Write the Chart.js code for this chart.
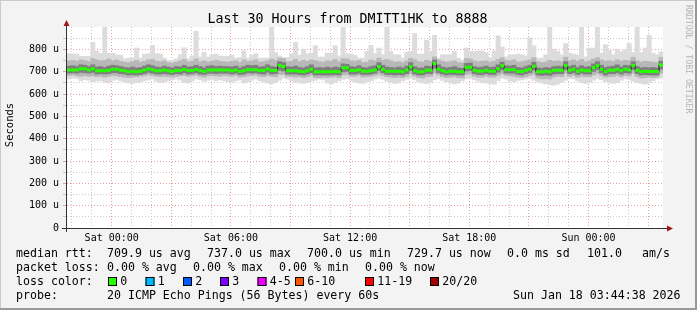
<!DOCTYPE html>
<html>
<head>
<meta charset="utf-8">
<script src="https://cdn.jsdelivr.net/npm/chart.js@4.4.1/dist/chart.umd.min.js"></script>
<style>
  html, body { margin: 0; padding: 0; background: #f3f3f3; }
  canvas { display: block; }
</style>
</head>
<body>
<canvas id="myChart" width="697" height="310"></canvas>
<script>
// 150 columns of 12 minutes, last 30 hours (x in hours from Sat 00:00)
const startHour = -2.25;
const stepHours = 0.2;

// median rtt (us)
const medRtt = [
  708,708,708,713,713,708,713,704,704,704,
  705,711,711,706,704,700,702,700,702,707,
  712,709,704,704,707,704,701,705,705,710,
  705,705,710,705,701,707,707,707,707,707,
  707,704,707,701,704,709,709,709,705,705,
  712,705,705,728,723,704,704,704,702,700,
  704,711,700,700,700,700,700,701,700,717,
  717,705,705,709,702,702,704,708,722,710,
  702,702,702,702,700,707,722,704,700,700,
  706,706,737,711,704,700,702,702,700,700,
  720,720,706,702,702,706,702,702,713,726,
  709,709,709,701,701,706,711,724,700,700,
  702,700,706,706,706,728,706,711,702,708,
  704,704,717,726,711,701,706,706,711,704,
  711,708,728,706,700,702,701,701,701,730
];
// smoke: slowest / fastest ping
const maxRtt = [
  780,778,778,768,768,768,830,791,781,897,
  781,781,775,772,757,760,760,805,760,778,
  780,817,780,778,760,748,748,757,775,806,
  757,770,880,765,785,765,775,778,770,768,
  768,773,760,763,793,760,773,780,760,760,
  760,905,785,770,763,763,780,830,773,800,
  780,782,816,765,765,782,782,815,770,905,
  780,778,772,760,760,790,817,780,805,775,
  905,790,775,775,760,787,790,870,777,778,
  840,790,862,760,775,775,775,790,760,750,
  805,790,790,792,792,785,760,792,860,810,
  765,775,775,778,775,770,850,815,760,760,
  775,905,800,790,775,825,782,778,775,905,
  765,805,805,905,782,820,795,775,800,790,
  797,825,785,905,785,805,862,782,775,788
];
const minRtt = [
  668,672,670,660,665,662,655,658,660,652,
  650,662,666,660,655,650,648,652,655,660,
  664,668,658,652,655,660,664,668,662,652,
  650,660,668,664,658,662,666,660,665,660,
  656,652,660,664,650,655,662,668,660,655,
  650,646,652,662,672,668,660,654,650,648,
  652,658,662,668,664,650,646,652,660,666,
  670,662,656,650,648,655,660,668,672,666,
  658,652,648,650,660,666,672,664,656,650,
  648,652,664,670,662,655,650,646,650,660,
  668,672,664,658,652,650,648,645,660,672,
  668,660,656,662,664,668,670,662,655,650,
  646,642,640,645,652,662,670,668,660,652,
  648,652,662,670,664,656,650,648,652,662,
  670,666,658,652,648,645,650,660,668,672
];
// middle smoke band
const hiMid = [
  748,750,746,752,750,744,758,752,748,750,
  756,748,752,746,742,740,744,750,742,746,
  752,754,746,744,748,740,738,742,748,754,
  744,746,756,744,748,742,746,750,746,744,
  742,746,748,740,752,746,748,752,742,744,
  748,756,750,760,758,744,746,754,744,750,
  746,752,748,744,742,748,746,754,744,758,
  756,748,746,750,740,742,752,748,760,750,
  754,748,742,744,740,748,760,752,744,742,
  750,746,766,752,746,742,744,748,740,738,
  758,756,748,744,746,748,742,746,754,762,
  750,748,752,742,744,748,752,762,744,740,
  742,750,746,748,744,764,748,752,746,754,
  744,748,756,762,752,746,748,744,752,746,
  750,748,764,748,742,746,744,742,740,764
];
const loMid = [
  684,686,682,680,684,680,682,678,680,676,
  680,684,682,678,676,674,676,678,680,682,
  686,684,680,678,680,678,676,680,682,684,
  680,682,686,680,676,682,684,682,680,684,
  682,680,684,676,678,682,684,686,680,678,
  684,680,678,688,688,680,678,676,678,674,
  678,684,674,672,676,674,676,678,674,686,
  688,680,680,684,676,678,680,684,690,684,
  678,676,674,676,674,680,690,680,674,672,
  678,680,694,686,678,674,676,678,674,672,
  688,690,680,676,676,680,676,676,684,692,
  684,682,680,676,674,678,684,690,672,668,
  670,668,676,680,678,694,680,684,676,680,
  678,678,686,692,684,676,678,680,684,678,
  684,682,694,678,672,674,676,674,676,694
];
// dark smoke core
const hiCore = [
  724,726,722,730,728,722,730,720,722,718,
  724,728,726,722,718,716,720,716,718,724,
  730,726,720,718,724,720,716,722,720,728,
  720,722,728,722,716,724,726,722,724,722,
  722,720,724,716,722,728,726,728,720,722,
  730,722,720,744,740,722,720,724,718,716,
  722,730,716,718,716,720,716,720,718,734,
  732,722,720,726,718,716,722,726,740,728,
  720,718,716,720,716,724,740,722,716,716,
  724,722,752,730,720,716,718,722,716,714,
  736,738,722,718,720,724,718,720,730,742,
  726,724,728,718,716,722,728,742,716,714,
  718,716,722,724,722,744,722,728,718,726,
  720,722,734,744,728,718,722,724,730,720,
  728,726,744,722,716,718,716,718,716,746
];
const loCore = [
  694,696,694,698,696,694,698,690,692,690,
  692,696,696,692,690,686,688,686,688,692,
  698,694,690,690,692,690,688,692,690,696,
  690,692,696,690,688,694,694,692,694,694,
  694,690,694,688,690,696,694,696,692,690,
  698,690,692,708,704,690,690,690,688,686,
  690,696,686,686,686,686,686,688,686,700,
  702,690,690,694,688,688,690,694,706,696,
  688,688,686,688,686,692,706,690,686,686,
  692,692,716,696,690,686,688,688,686,686,
  704,706,692,688,688,692,688,688,698,710,
  694,694,694,688,686,692,696,708,686,684,
  686,684,690,692,692,710,692,696,688,694,
  690,690,702,710,696,686,692,692,696,690,
  696,694,710,692,686,688,686,686,686,712
];

const hourTicks = [-2,-1,0,1,2,3,4,5,6,7,8,9,10,11,12,13,14,15,16,17,18,19,20,21,22,23,24,25,26,27];
const labelHours = [0, 6, 12, 18, 24];
const labelTexts = ['Sat 00:00', 'Sat 06:00', 'Sat 12:00', 'Sat 18:00', 'Sun 00:00'];

const lossLabels = ['0', '1', '2', '3', '4-5', '6-10', '11-19', '20/20'];
const lossColors = ['#26ff00', '#00b8ff', '#0059ff', '#7e00ff', '#ee00ff', '#ff5500', '#ff0000', '#a10000'];

const statsRtt = ['709.9 us avg', '737.0 us max', '700.0 us min', '729.7 us now', '0.0 ms sd', '101.0', 'am/s'];
const statsLoss = ['0.00 % avg', '0.00 % max', '0.00 % min', '0.00 % now'];

const MONO = '"DejaVu Sans Mono", "Liberation Mono", monospace';

const colStart = i => startHour + i * stepHours;
const band = (lo, hi) => medRtt.map((_, i) => ({ x: colStart(i) + stepHours / 2, y: [lo[i], hi[i]] }));
const medStep = medRtt.map((m, i) => ({ x: colStart(i), y: m }))
  .concat([{ x: colStart(medRtt.length), y: medRtt[medRtt.length - 1] }]);
const medSegs = medRtt.flatMap((m, i) => [
  { x: colStart(i), y: m }, { x: colStart(i + 1), y: m }, { x: colStart(i + 1), y: null }
]);

const rrdLook = {
  id: 'rrdLook',
  beforeDraw(chart) {
    const c = chart.ctx, a = chart.chartArea, W = chart.width, H = chart.height;
    c.save();
    c.fillStyle = '#f3f3f3';
    c.fillRect(0, 0, W, H);
    c.fillStyle = '#cbcbcb';
    c.fillRect(0, 0, W, 1);
    c.fillRect(0, 0, 1, H);
    c.fillStyle = '#999999';
    c.fillRect(0, H - 2, W, 2);
    c.fillRect(W - 2, 0, 2, H);
    c.fillStyle = '#ffffff';
    c.fillRect(a.left, a.top, a.right - a.left, a.bottom - a.top);
    c.restore();
  },
  afterDraw(chart) {
    const c = chart.ctx, a = chart.chartArea;
    c.save();
    // axes with arrows
    c.strokeStyle = '#333333';
    c.lineWidth = 1;
    c.beginPath();
    c.moveTo(a.left - 0.5, a.bottom + 4);
    c.lineTo(a.left - 0.5, a.top - 2);
    c.moveTo(a.left - 5, a.bottom + 0.5);
    c.lineTo(a.right + 4, a.bottom + 0.5);
    c.stroke();
    c.fillStyle = '#a01818';
    c.beginPath();
    c.moveTo(a.left - 0.5, a.top - 7);
    c.lineTo(a.left - 3.5, a.top - 1);
    c.lineTo(a.left + 2.5, a.top - 1);
    c.closePath();
    c.fill();
    c.beginPath();
    c.moveTo(a.right + 10, a.bottom + 0.5);
    c.lineTo(a.right + 4, a.bottom - 2.5);
    c.lineTo(a.right + 4, a.bottom + 3.5);
    c.closePath();
    c.fill();

    // title
    c.fillStyle = '#000';
    c.textBaseline = 'middle';
    c.textAlign = 'center';
    c.font = '13.3px ' + MONO;
    c.fillText('Last 30 Hours from DMITT1HK to 8888', 347.5, 19.5);

    // vertical label
    c.save();
    c.translate(10.5, 125);
    c.rotate(-Math.PI / 2);
    c.font = '10.5px ' + MONO;
    c.fillText('Seconds', 0, 0);
    c.restore();

    // watermark
    c.save();
    c.translate(688, 5);
    c.rotate(Math.PI / 2);
    c.textAlign = 'left';
    c.fillStyle = '#b4b4b4';
    c.font = '8.2px ' + MONO;
    c.fillText('RRDTOOL / TOBI OETIKER', 0, 0);
    c.restore();

    // legend
    c.textAlign = 'left';
    c.font = '11.6px ' + MONO;
    const rttX = [107, 207, 307, 407, 507, 587, 642];
    c.fillText('median rtt:', 16, 254);
    statsRtt.forEach((s, i) => c.fillText(s, rttX[i], 254));
    const lossX = [107, 193, 279, 365];
    c.fillText('packet loss:', 16, 268);
    statsLoss.forEach((s, i) => c.fillText(s, lossX[i], 268));
    c.fillText('loss color:', 16, 282);
    const boxX = [108, 145.5, 183, 220, 257.5, 295, 365, 430];
    lossLabels.forEach((t, i) => {
      c.fillStyle = lossColors[i];
      c.fillRect(boxX[i], 277, 9, 9);
      c.strokeStyle = '#000';
      c.strokeRect(boxX[i] + 0.5, 277.5, 8, 8);
      c.fillStyle = '#000';
      c.fillText(t, boxX[i] + 12.3, 282);
    });
    c.fillText('probe:', 16, 296);
    c.fillText('20 ICMP Echo Pings (56 Bytes) every 60s', 107, 296);
    c.fillText('Sun Jan 18 03:44:38 2026', 513, 296);
    c.restore();
  }
};

const RED = '#eaa0a0';
const GRAY = '#c8c8c8';
const barOpts = { grouped: false, barPercentage: 1, categoryPercentage: 1, borderWidth: 0, inflateAmount: 0.5 };

new Chart(document.getElementById('myChart'), {
  type: 'bar',
  data: {
    datasets: [
      { label: 'med', type: 'line', data: medSegs, borderColor: lossColors[0], borderWidth: 3,
        borderCapStyle: 'butt', pointRadius: 0, spanGaps: false, order: 1 },
      { label: 'medline', type: 'line', data: medStep, stepped: true, borderColor: '#1e1e1e',
        borderWidth: 1, pointRadius: 0, order: 2 },
      Object.assign({ label: 'core', data: band(loCore, hiCore), backgroundColor: '#7e7e7e', order: 3 }, barOpts),
      Object.assign({ label: 'mid', data: band(loMid, hiMid), backgroundColor: '#b8b8b8', order: 4 }, barOpts),
      Object.assign({ label: 'smoke', data: band(minRtt, maxRtt), backgroundColor: '#dcdcdc', order: 5 }, barOpts)
    ]
  },
  options: {
    responsive: false,
    animation: false,
    events: [],
    layout: { padding: { left: 0, top: 27, right: 34, bottom: 0 } },
    plugins: { legend: { display: false }, tooltip: { enabled: false }, title: { display: false } },
    scales: {
      x: {
        type: 'linear', min: startHour, max: startHour + 30, offset: false,
        afterFit(s) { s.height = 82; },
        afterBuildTicks(s) { s.ticks = hourTicks.map(v => ({ value: v })); },
        ticks: {
          autoSkip: false, maxRotation: 0, padding: 4, color: '#000',
          font: { family: MONO, size: 10 },
          callback(v) { const k = labelHours.indexOf(v); return k < 0 ? '' : labelTexts[k]; }
        },
        grid: {
          drawTicks: false, lineWidth: 1, offset: false,
          color: ctx => (ctx.tick && ctx.tick.value % 3 === 0) ? RED : GRAY
        },
        border: { display: false, dash: [1, 2] }
      },
      y: {
        min: 0, max: 900,
        afterFit(s) { s.width = 67; },
        ticks: {
          stepSize: 50, autoSkip: false, padding: 4, color: '#000',
          font: { family: MONO, size: 10 },
          callback(v) { return (v % 100 || v === 900) ? '' : (v === 0 ? '0' : v + ' u'); }
        },
        grid: {
          tickLength: 4, lineWidth: 1,
          color: ctx => {
            const v = ctx.tick ? ctx.tick.value : 0;
            if (v === 900) return 'rgba(0,0,0,0)';
            return v % 100 === 0 ? RED : GRAY;
          }
        },
        border: { display: false, dash: [1, 2] }
      }
    }
  },
  plugins: [rrdLook]
});
</script>
</body>
</html>
